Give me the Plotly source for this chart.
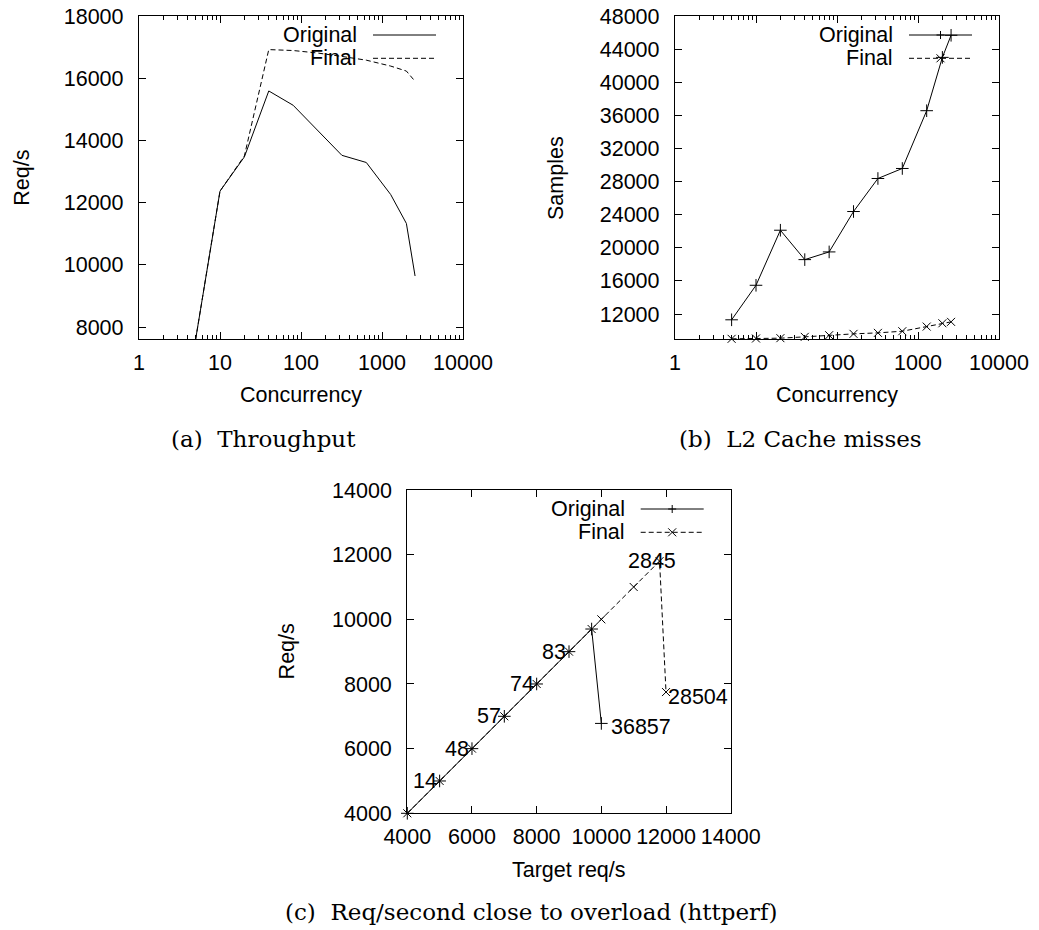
import plotly.graph_objects as go

W, H = 1039, 930

# ---------------- data ----------------
# (a) Throughput
concurrency = [5, 10, 20, 40, 80, 160, 320, 640, 1280, 2000, 2560]
thr_original = [7600, 12370, 13470, 15590, 15130, 14330, 13520, 13290, 12260, 11330, 9640]
thr_final = [7600, 12370, 13500, 16920, 16890, 16810, 16700, 16580, 16390, 16230, 15900]

# (b) L2 cache misses
l2_original = [11300, 15470, 22120, 18570, 19500, 24380, 28370, 29580, 36560, 43000, 45670]
l2_final = [9000, 9040, 9080, 9240, 9440, 9600, 9720, 9920, 10480, 10880, 11050]

# (c) Req/second close to overload (httperf)
target_original = [4000, 5000, 6000, 7000, 8000, 9000, 9700, 10000]
reqs_original = [4000, 5000, 6000, 7000, 8000, 9000, 9700, 6780]
target_final = [4000, 5000, 6000, 7000, 8000, 9000, 9700, 10000, 11000, 11800, 12000]
reqs_final = [4000, 5000, 6000, 7000, 8000, 9000, 9700, 10000, 11000, 11800, 7750]
point_labels = ["14", "48", "57", "74", "83", "36857", "2845", "28504"]
point_label_x = [5000, 6000, 7000, 8000, 9000, 10000, 11800, 12000]
point_label_y = [5000, 6000, 7000, 8000, 9000, 6780, 11800, 7750]

# tick labels
log_ticks = [1, 10, 100, 1000, 10000]
log_minor_ticks = [m * d for d in [1, 10, 100, 1000] for m in range(2, 10)]
a_yticks = [8000, 10000, 12000, 14000, 16000, 18000]
b_yticks = [12000, 16000, 20000, 24000, 28000, 32000, 36000, 40000, 44000, 48000]
c_ticks = [4000, 6000, 8000, 10000, 12000, 14000]

series_names = ["Original", "Final"]

# ---------------- styles ----------------
SANS = "Liberation Sans, Arial, sans-serif"
SERIF = "DejaVu Serif, serif"
FS = 21.5
LINE = dict(color="black", width=1)
DASH = dict(color="black", width=1, dash="5px,3px")


def px(x):
    return x / W


def py(y):
    return 1 - y / H


fig = go.Figure()

boxes = {
    "a": (139, 463, 16, 339),
    "b": (675, 999, 16, 339),
    "c": (407.3, 730.7, 490, 813.3),
}


def axis_common():
    return dict(
        showline=True, mirror="allticks", linecolor="black", linewidth=1.3,
        ticks="inside", ticklen=7, tickwidth=1, tickcolor="black",
        showgrid=False, zeroline=False, automargin=False,
        tickfont=dict(family=SANS, size=FS, color="black"),
    )


# (a)
fig.add_trace(go.Scatter(x=concurrency, y=thr_original, mode="lines", line=LINE,
                         xaxis="x", yaxis="y", showlegend=False))
fig.add_trace(go.Scatter(x=concurrency, y=thr_final, mode="lines", line=DASH,
                         xaxis="x", yaxis="y", showlegend=False))
# (b)
fig.add_trace(go.Scatter(x=concurrency, y=l2_original, mode="lines+markers", line=LINE,
                         marker=dict(symbol="cross-thin", size=9, color="black",
                                     line=dict(color="black", width=1)),
                         cliponaxis=False, xaxis="x2", yaxis="y2", showlegend=False))
fig.add_trace(go.Scatter(x=concurrency, y=l2_final, mode="lines+markers", line=DASH,
                         marker=dict(symbol="x-thin", size=8, color="black",
                                     line=dict(color="black", width=1)),
                         cliponaxis=False, xaxis="x2", yaxis="y2", showlegend=False))
# (c)
fig.add_trace(go.Scatter(x=target_original, y=reqs_original, mode="lines+markers", line=LINE,
                         marker=dict(symbol="cross-thin", size=9, color="black",
                                     line=dict(color="black", width=1)),
                         cliponaxis=False, xaxis="x3", yaxis="y3", showlegend=False))
fig.add_trace(go.Scatter(x=target_final, y=reqs_final, mode="lines+markers", line=DASH,
                         marker=dict(symbol="x-thin", size=8, color="black",
                                     line=dict(color="black", width=1)),
                         cliponaxis=False, xaxis="x3", yaxis="y3", showlegend=False))

minor_log = dict(ticks="inside", ticklen=4, tickwidth=1, tickcolor="black",
                 tickmode="array", tickvals=log_minor_ticks, showgrid=False)

ax = boxes["a"]
fig.update_layout(
    xaxis=dict(axis_common(), type="log", range=[0, 4], domain=[px(ax[0]), px(ax[1])],
               tickvals=log_ticks, ticktext=[str(v) for v in log_ticks],
               minor=minor_log, anchor="y", ticklabelstandoff=4),
    yaxis=dict(axis_common(), range=[7615, 18000], domain=[py(ax[3]), py(ax[2])],
               tickvals=a_yticks, ticktext=[str(v) for v in a_yticks], anchor="x",
               ticklabelstandoff=10),
)
bx = boxes["b"]
fig.update_layout(
    xaxis2=dict(axis_common(), type="log", range=[0, 4], domain=[px(bx[0]), px(bx[1])],
                tickvals=log_ticks, ticktext=[str(v) for v in log_ticks],
                minor=minor_log, anchor="y2", ticklabelstandoff=4),
    yaxis2=dict(axis_common(), range=[8980, 48000], domain=[py(bx[3]), py(bx[2])],
                tickvals=b_yticks, ticktext=[str(v) for v in b_yticks], anchor="x2",
                ticklabelstandoff=10),
)
cx = boxes["c"]
fig.update_layout(
    xaxis3=dict(axis_common(), range=[4000, 14000], domain=[px(cx[0]), px(cx[1])],
                tickvals=c_ticks, ticktext=[str(v) for v in c_ticks], anchor="y3",
                ticklabelstandoff=4),
    yaxis3=dict(axis_common(), range=[4000, 14000], domain=[py(cx[3]), py(cx[2])],
                tickvals=c_ticks, ticktext=[str(v) for v in c_ticks], anchor="x3",
                ticklabelstandoff=10),
)

annotations = []
shapes = []

label_style = [
    dict(xanchor="right", xshift=-1, yshift=0),
    dict(xanchor="right", xshift=-1, yshift=0),
    dict(xanchor="right", xshift=-1, yshift=0),
    dict(xanchor="right", xshift=-1, yshift=0),
    dict(xanchor="right", xshift=-1, yshift=0),
    dict(xanchor="left", xshift=8, yshift=-4),
    dict(xanchor="center", xshift=-8, yshift=0),
    dict(xanchor="left", xshift=0, yshift=-5),
]
for t, lx, ly, st in zip(point_labels, point_label_x, point_label_y, label_style):
    annotations.append(dict(x=lx, y=ly, xref="x3", yref="y3", text=t, showarrow=False,
                            yanchor="middle", font=dict(family=SANS, size=FS, color="black"),
                            **st))


def text_at(x, y, t, font, angle=0, xanchor="center"):
    annotations.append(dict(x=px(x), y=py(y), xref="paper", yref="paper", text=t,
                            showarrow=False, xanchor=xanchor, yanchor="middle",
                            textangle=angle, font=font))


sans = dict(family=SANS, size=FS, color="black")
serif = dict(family=SERIF, size=23, color="black")

text_at(21.7, 178, "Req/s", sans, angle=-90)
text_at(301, 395, "Concurrency", sans)
text_at(556, 178, "Samples", sans, angle=-90)
text_at(837, 395, "Concurrency", sans)
text_at(286.7, 651.7, "Req/s", sans, angle=-90)
text_at(569, 870, "Target req/s", sans)

text_at(263.8, 439, "(a)\u00a0 Throughput", serif)
text_at(800, 439, "(b)\u00a0 L2 Cache misses", serif)
text_at(531, 911.7, "(c)\u00a0 Req/second close to overload (httperf)", serif)


def key(box, markers):
    x0, x1, y0, y1 = box
    rows = [y0 + 19, y0 + 42.3]
    for i, name in enumerate(series_names):
        yy = rows[i]
        l_end = x1 - 27
        l_start = l_end - 63
        text_at(l_start - 14, yy, name, sans, xanchor="right")
        shapes.append(dict(type="line", xref="paper", yref="paper",
                           x0=px(l_start), x1=px(l_end), y0=py(yy), y1=py(yy),
                           line=dict(color="black", width=1,
                                     dash=None if i == 0 else "5px,3px")))
        if markers:
            mx = (l_start + l_end) / 2
            r = 4
            if i == 0:
                segs = [(mx - r, yy, mx + r, yy), (mx, yy - r, mx, yy + r)]
            else:
                segs = [(mx - r, yy - r, mx + r, yy + r), (mx - r, yy + r, mx + r, yy - r)]
            for s in segs:
                shapes.append(dict(type="line", xref="paper", yref="paper",
                                   x0=px(s[0]), y0=py(s[1]), x1=px(s[2]), y1=py(s[3]),
                                   line=dict(color="black", width=1)))


key(boxes["a"], False)
key(boxes["b"], True)
key(boxes["c"], True)

fig.update_layout(
    width=W, height=H, margin=dict(l=0, r=0, t=0, b=0, autoexpand=False),
    paper_bgcolor="white", plot_bgcolor="white",
    annotations=annotations, shapes=shapes, showlegend=False,
)

fig.write_html("out.html")
